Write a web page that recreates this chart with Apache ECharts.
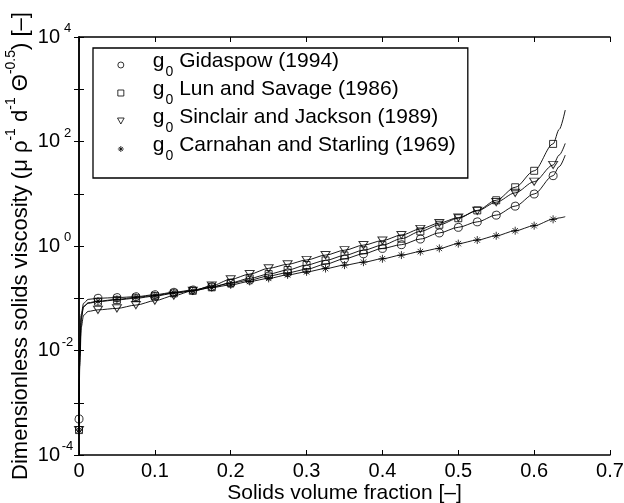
<!DOCTYPE html>
<html><head><meta charset="utf-8">
<script src="https://cdn.jsdelivr.net/npm/echarts@6/dist/echarts.min.js"></script>
<style>html,body{margin:0;padding:0;background:#fff}#c{width:624px;height:503px}</style>
</head><body><div id="c"></div>
<script>
// ---- data ----
const phi = [0, 0.025, 0.05, 0.075, 0.1, 0.125, 0.15, 0.175, 0.2, 0.225, 0.25, 0.275, 0.3,
  0.325, 0.35, 0.375, 0.4, 0.425, 0.45, 0.475, 0.5, 0.525, 0.55, 0.575, 0.6, 0.625];
const gidaspow = [4.9e-4, 0.100, 0.103, 0.107, 0.117, 0.130, 0.144, 0.167, 0.193, 0.223, 0.267, 0.308, 0.358,
  0.45, 0.57, 0.71, 0.90, 1.06, 1.36, 1.78, 2.28, 2.9, 3.9, 5.8, 9.9, 22.2];
const lunSavage = [3.0e-4, 0.086, 0.093, 0.100, 0.110, 0.124, 0.139, 0.162, 0.198, 0.240, 0.29, 0.347, 0.433,
  0.53, 0.66, 0.83, 1.04, 1.38, 1.9, 2.55, 3.4, 4.8, 7.5, 13.3, 27.5, 90];
const sinclairJackson = [3.0e-4, 0.060, 0.064, 0.074, 0.090, 0.112, 0.139, 0.174, 0.23, 0.29, 0.374, 0.446, 0.54,
  0.67, 0.83, 1.04, 1.27, 1.62, 2.12, 2.75, 3.5, 4.7, 6.9, 10.4, 17.0, 35.5];
const carnahanStarling = [3.0e-4, 0.088, 0.095, 0.104, 0.113, 0.127, 0.139, 0.16, 0.18, 0.21, 0.24, 0.28, 0.32,
  0.37, 0.43, 0.49, 0.57, 0.67, 0.78, 0.90, 1.11, 1.30, 1.57, 1.96, 2.45, 3.24];
// extra curve points (no markers) near the two ends
const headPhi = [0.001, 0.003, 0.006, 0.012];
const headGidaspow = [0.010, 0.05, 0.08, 0.095];
const headLunSavage = [0.008, 0.04, 0.068, 0.080];
const headSinclairJackson = [0.005, 0.028, 0.047, 0.056];
const headCarnahanStarling = [0.008, 0.045, 0.07, 0.082];
const tailPhi = [0.633, 0.641];
const tailGidaspow = [33, 55];
const tailLunSavage = [170, 400];
const tailSinclairJackson = [55, 92];
const tailCarnahanStarling = [3.45, 3.64];

const seriesNames = ['Gidaspow (1994)', 'Lun and Savage (1986)', 'Sinclair and Jackson (1989)', 'Carnahan and Starling (1969)'];
const xTicks = [0, 0.1, 0.2, 0.3, 0.4, 0.5, 0.6, 0.7];

// ---- build ----
const markerVals = [gidaspow, lunSavage, sinclairJackson, carnahanStarling];
const headVals = [headGidaspow, headLunSavage, headSinclairJackson, headCarnahanStarling];
const tailVals = [tailGidaspow, tailLunSavage, tailSinclairJackson, tailCarnahanStarling];

const SYM_CIRCLE = 'path://M5,0A5,5,0,1,1,4.999,0Z';
const SYM_RECT = 'path://M0,0H10V10H0Z';
const SYM_TRI = 'path://M0,0L10,0L5,9Z';
const SYM_STAR = 'path://M5,0V10M0,5H10M1.6,1.6L8.4,8.4M8.4,1.6L1.6,8.4';
const symbols = [SYM_CIRCLE, SYM_RECT, SYM_TRI, SYM_STAR];
const symSizes = [8, 7, [9, 8], 8];

const FONT = 'Liberation Sans, Arial, Helvetica, sans-serif';

const series = [];
markerVals.forEach((vals, i) => {
  const line = [[phi[0], vals[0]]];
  headPhi.forEach((p, k) => line.push([p, headVals[i][k]]));
  for (let k = 1; k < phi.length; k++) line.push([phi[k], vals[k]]);
  tailPhi.forEach((p, k) => line.push([p, tailVals[i][k]]));
  series.push({
    type: 'line', name: seriesNames[i] + ' curve', data: line, showSymbol: false,
    smooth: 0.3, smoothMonotone: 'x', lineStyle: {color: '#000', width: 0.9}, silent: true, z: 2
  });
});
markerVals.forEach((vals, i) => {
  series.push({
    type: 'scatter', name: seriesNames[i], data: phi.map((p, k) => [p, vals[k]]),
    symbol: symbols[i], symbolSize: symSizes[i], symbolKeepAspect: true,
    itemStyle: {color: 'rgba(0,0,0,0)', borderColor: '#000', borderWidth: 1}, z: 3
  });
});

const yFmt = v => {
  const e = Math.round(Math.log10(v));
  if (e % 2 !== 0) return '';
  return '{b|10}{s|' + (e < 0 ? '-' + (-e) : e) + '}';
};

const chart = echarts.init(document.getElementById('c'), null, {renderer: 'canvas'});
chart.setOption({
  animation: false,
  backgroundColor: '#fff',
  textStyle: {fontFamily: FONT, color: '#000'},
  grid: {left: 79, right: 14, top: 37, bottom: 48, containLabel: false, outerBoundsMode: 'none'},
  legend: {
    orient: 'vertical', left: 93, top: 48, padding: [3, 12, 15, 24], itemGap: 0,
    itemWidth: 54, itemHeight: 6, borderColor: '#000', borderWidth: 1.3, backgroundColor: '#fff',
    selectedMode: false, symbolKeepAspect: true,
    formatter: n => '{g|g}{sub|0}{t| ' + n + '}',
    textStyle: {
      fontFamily: FONT, color: '#000',
      rich: {
        g: {fontSize: 21, fontFamily: FONT, color: '#000', verticalAlign: 'top'},
        t: {fontSize: 21, fontFamily: FONT, color: '#000', verticalAlign: 'top'},
        sub: {fontSize: 14, fontFamily: FONT, color: '#000', padding: [14, 0, 0, 1], verticalAlign: 'top'}
      }
    },
    data: seriesNames.map((n, i) => ({
      name: n, icon: symbols[i],
      itemStyle: {color: i === 3 ? '#000' : 'rgba(0,0,0,0)', borderColor: '#000', borderWidth: 1}
    }))
  },
  xAxis: [{
    type: 'value', min: 0, max: 0.7, interval: 0.1, position: 'bottom',
    name: 'Solids volume fraction [–]', nameLocation: 'middle', nameGap: 28, nameMoveOverlap: false,
    nameTextStyle: {fontSize: 21, fontFamily: FONT, color: '#000'},
    axisLine: {show: true, lineStyle: {color: '#000', width: 1.5}},
    axisTick: {show: true, inside: true, length: 5, lineStyle: {color: '#000', width: 1}},
    axisLabel: {fontSize: 20, fontFamily: FONT, color: '#000', margin: 6,
      formatter: v => xTicks.indexOf(Math.round(v * 10) / 10) >= 0 ? String(Math.round(v * 10) / 10) : ''},
    splitLine: {show: false}
  }, {
    type: 'value', min: 0, max: 0.7, interval: 0.1, position: 'top',
    axisLine: {show: true, lineStyle: {color: '#000', width: 1.5}},
    axisTick: {show: true, inside: true, length: 5, lineStyle: {color: '#000', width: 1}},
    axisLabel: {show: false}, splitLine: {show: false}
  }],
  yAxis: [{
    type: 'log', logBase: 10, min: 1e-4, max: 1e4, interval: 1, position: 'left',
    name: '{t|Dimensionless solids viscosity (μ ρ}{s|-1}{t| d}{s|-1}{t| Θ}{s|-0.5}{t|) [–]}',
    nameLocation: 'middle', nameRotate: 90, nameGap: 47, nameMoveOverlap: false,
    nameTextStyle: {
      fontFamily: FONT, color: '#000',
      rich: {
        t: {fontSize: 22, fontFamily: FONT, color: '#000', padding: [6, 0, 0, 0]},
        s: {fontSize: 14, fontFamily: FONT, color: '#000', verticalAlign: 'top'}
      }
    },
    axisLine: {show: true, lineStyle: {color: '#000', width: 1.5}},
    axisTick: {show: true, inside: true, length: 5, lineStyle: {color: '#000', width: 1}},
    axisLabel: {
      margin: 4, formatter: yFmt, padding: [0, 0, 5, 0],
      rich: {
        b: {fontSize: 20, fontFamily: FONT, color: '#000', padding: [5, 0, 0, 0]},
        s: {fontSize: 13, fontFamily: FONT, color: '#000', verticalAlign: 'top', width: 15, align: 'left'}
      }
    },
    splitLine: {show: false}
  }, {
    type: 'log', logBase: 10, min: 1e-4, max: 1e4, interval: 1, position: 'right',
    axisLine: {show: true, lineStyle: {color: '#000', width: 1.5}},
    axisTick: {show: true, inside: true, length: 5, lineStyle: {color: '#000', width: 1}},
    axisLabel: {show: false}, splitLine: {show: false}
  }],
  series: series
});
</script>
</body></html>
